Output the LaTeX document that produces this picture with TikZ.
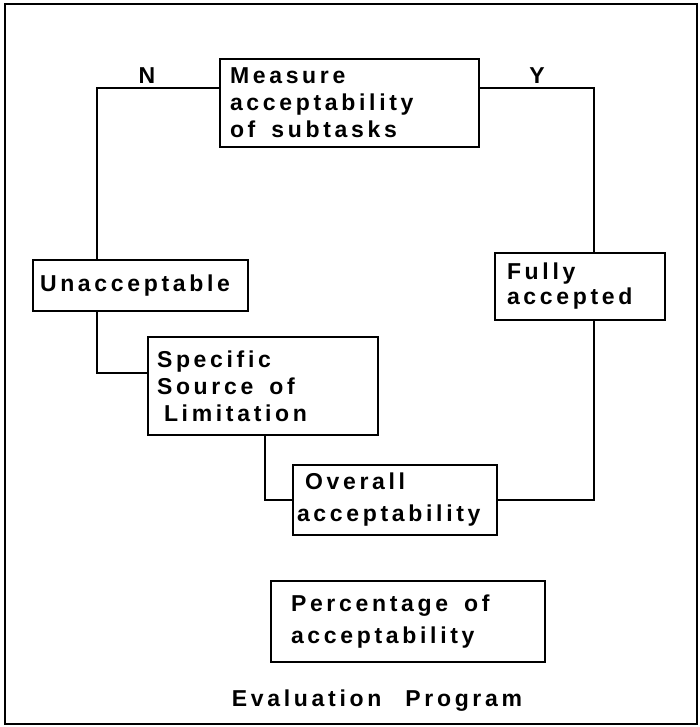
\documentclass[tikz,border=0pt]{standalone}
\usepackage{fontspec}
\newfontfamily\diagfont[LetterSpace=16]{Liberation Sans}
\usetikzlibrary{calc}
\newcommand{\diagtext}[1]{\diagfont\bfseries\fontsize{23}{#1}\selectfont}
\newcommand{\wgap}{\hspace{16pt}}
\tikzset{
    my-box/.style={
        draw, line width=2pt, anchor=north west, align=left, inner ysep=0pt, outer sep=0pt,
        font=\diagtext{27}
    },
    my-wire/.style={
        line width=2pt, line join=miter
    },
    my-label/.style={
        font=\diagtext{27}, inner sep=0pt
    },
}

\begin{document}
\begin{tikzpicture}[x=1pt, y=-1pt]

        % EVALUATION PROGRAM ---------------------------------------------------------------------------

        % FRAME
        \useasboundingbox (0, 0) rectangle (699, 727);
        \draw[my-wire] (5, 4) rectangle (697, 724);

        % BOXES
        \node[my-box, inner xsep=10pt, text width=239pt, minimum height=88pt] (MEASURE)  at (220, 59)  {Measure\\acceptability\\of\wgap subtasks};
        \node[my-box, inner xsep=7pt,  text width=201pt, minimum height=51pt] (UNACC)    at (33, 260)  {Unacceptable};
        \node[my-box, inner xsep=9pt,  text width=212pt, minimum height=98pt] (SPECIFIC) at (148, 337) {Specific\\Source\wgap of\\\hspace{7pt}Limitation};
        \node[my-box, inner xsep=12pt, text width=146pt, minimum height=67pt,
              font=\diagtext{25}]                                              (FULLY)    at (495, 253) {Fully\\accepted};
        \node[my-box, inner xsep=4pt,  text width=196pt, minimum height=70pt,
              font=\diagtext{32}]                                              (OVERALL)  at (293, 465) {\hspace{8pt}Overall\\acceptability};
        \node[my-box, inner xsep=20pt, text width=234pt, minimum height=81pt,
              font=\diagtext{32}]                                              (PERCENT)  at (271, 581) {Percentage\wgap of\\acceptability};

        % N BRANCH - LEFT SIDE
        \coordinate[] (NTURN) at ($(MEASURE.north west) + (-123, 29)$) {};
        \draw[my-wire] (MEASURE.west |- NTURN) -- (NTURN) -- (NTURN |- UNACC.north);
        \node[my-label] (N) at ($(NTURN) + (50, -12)$) {N};

        % UNACCEPTABLE -> SPECIFIC SOURCE
        \coordinate[] (UTURN) at ($(SPECIFIC.north west) + (-51, 36)$) {};
        \draw[my-wire] (UNACC.south -| UTURN) -- (UTURN) -- (UTURN -| SPECIFIC.west);

        % SPECIFIC SOURCE -> OVERALL
        \coordinate[] (STURN) at ($(SPECIFIC.south |- OVERALL.west) + (2, 0)$) {};
        \draw[my-wire] (STURN |- SPECIFIC.south) -- (STURN) -- (OVERALL.west);

        % Y BRANCH - RIGHT SIDE
        \coordinate[] (YCOL)  at ($(FULLY.south) + (14, 0)$) {};
        \coordinate[] (YTURN) at (YCOL |- NTURN) {};
        \draw[my-wire] (OVERALL.east) -| (YCOL);
        \draw[my-wire] (YCOL |- FULLY.north) -- (YTURN) -- (YTURN -| MEASURE.east);
        \node[my-label] (Y) at ($(YTURN) + (-57, -12)$) {Y};

        % TITLE
        \node[my-label] (TITLE) at ($(PERCENT.south) + (-31, 39)$) {Evaluation\hspace{24pt}Program};

\end{tikzpicture}
\end{document}
